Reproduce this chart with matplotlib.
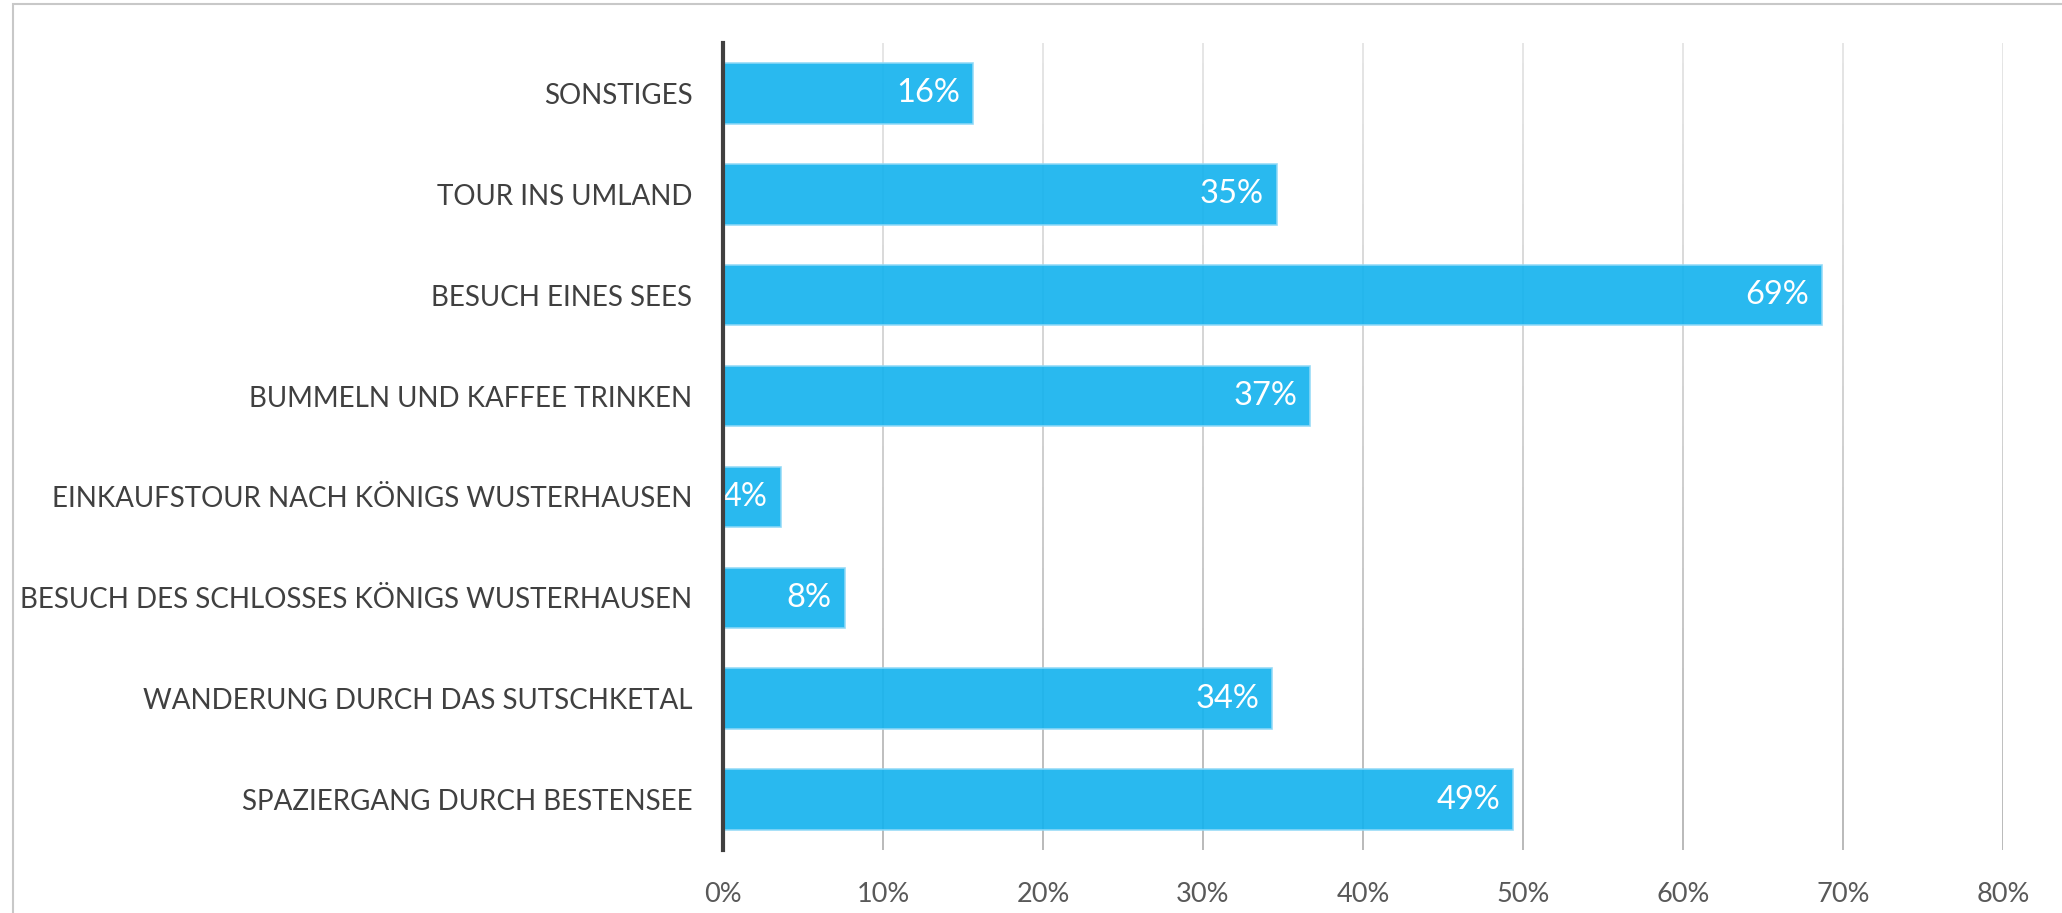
import matplotlib
matplotlib.use("Agg")
import matplotlib.pyplot as plt
import numpy as np
from matplotlib.patches import Rectangle
from matplotlib.collections import LineCollection

categories = [
    "SPAZIERGANG DURCH BESTENSEE",
    "WANDERUNG DURCH DAS SUTSCHKETAL",
    "BESUCH DES SCHLOSSES KÖNIGS WUSTERHAUSEN",
    "EINKAUFSTOUR NACH KÖNIGS WUSTERHAUSEN",
    "BUMMELN UND KAFFEE TRINKEN",
    "BESUCH EINES SEES",
    "TOUR INS UMLAND",
    "SONSTIGES",
]
values = [49.4, 34.3, 7.6, 3.6, 36.7, 68.7, 34.6, 15.6]
xticks = [0, 10, 20, 30, 40, 50, 60, 70, 80]
xticklabels = ["0%", "10%", "20%", "30%", "40%", "50%", "60%", "70%", "80%"]

plt.rcParams['font.family'] = ['Lato', 'DejaVu Sans']

fig = plt.figure(figsize=(20.62, 9.13), dpi=100)
ax = fig.add_axes([0.3506, 0.069, 0.9714 - 0.3506, 0.953 - 0.069])

# figure border
fig.patches.append(Rectangle((13 / 2062, -0.1), 1.2, 1 - 4 / 913 + 0.1,
                             transform=fig.transFigure, fill=False,
                             edgecolor='#c8c8c8', linewidth=1.5))

y = list(range(len(categories)))
bars = ax.barh(y, values, height=0.6, color='#16b3ee', alpha=0.92,
               edgecolor='#8fd9f7', linewidth=1.2, zorder=2)

# gradient vertical gridlines (light at top, darker at bottom)
n = 40
ys = np.linspace(7.5, -0.5, n + 1)
segs, cols = [], []
for t in xticks[1:]:
    for i in range(n):
        segs.append([(t, ys[i]), (t, ys[i + 1])])
        a = 0.13 + 0.22 * (i / (n - 1))
        cols.append((0, 0, 0, a))
ax.add_collection(LineCollection(segs, colors=cols, linewidths=1.1,
                                 capstyle='butt', zorder=1))

for yi, v in zip(y, values):
    ax.text(v - 0.8, yi, f"{round(v):d}%", ha='right', va='center',
            color='white', fontsize=23.5, zorder=4)

ax.set_xlim(0, 80)
ax.set_ylim(-0.5, 7.5)
ax.set_yticks(y)
ax.set_yticklabels(categories, fontsize=20, color='#404040')
ax.set_xticks(xticks)
ax.set_xticklabels(xticklabels, fontsize=19.5, color='#595959')
ax.tick_params(axis='y', length=0, pad=22)
ax.tick_params(axis='x', length=0, pad=23)

for s in ['top', 'right', 'bottom']:
    ax.spines[s].set_visible(False)
ax.spines['left'].set_color('#404040')
ax.spines['left'].set_linewidth(3)
ax.spines['left'].set_zorder(5)

fig.savefig("out.png", dpi=100)
